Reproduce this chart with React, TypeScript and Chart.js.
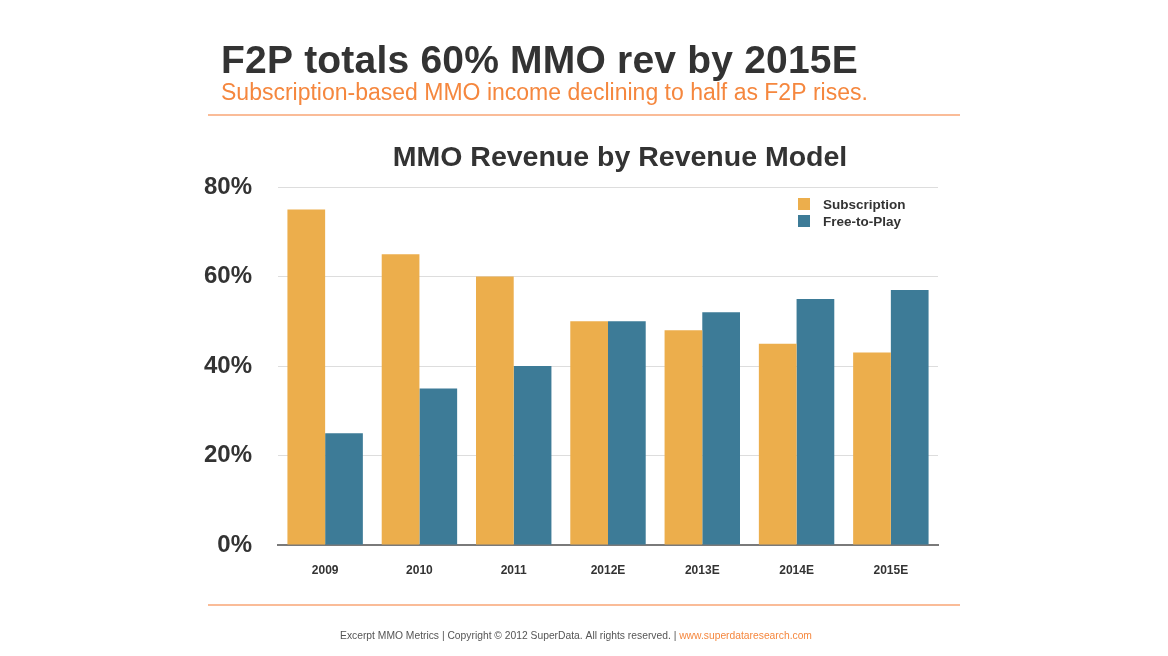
import React, { useEffect, useRef } from "react";
import { Chart, registerables } from "chart.js";

Chart.register(...registerables);

const categories = ["2009", "2010", "2011", "2012E", "2013E", "2014E", "2015E"];
const subscription = [75, 65, 60, 50, 48, 45, 43];
const freeToPlay = [25, 35, 40, 50, 52, 55, 57];
const yTicks = [0, 20, 40, 60, 80];

const headline = "F2P totals 60% MMO rev by 2015E";
const subhead = "Subscription-based MMO income declining to half as F2P rises.";
const chartTitle = "MMO Revenue by Revenue Model";
const footerMain = "Excerpt MMO Metrics | Copyright © 2012 SuperData. All rights reserved. | ";
const footerLink = "www.superdataresearch.com";

const ORANGE = "#ECAE4C";
const BLUE = "#3D7B97";
const ACCENT = "#F5873E";
const DARK = "#333333";
const FONT = "'Liberation Sans', Arial, Helvetica, sans-serif";

const decorPlugin = {
  id: "decor",
  afterDraw(chart: any) {
    const ctx = chart.ctx;
    ctx.save();
    ctx.textBaseline = "alphabetic";
    ctx.textAlign = "left";
    // headline
    ctx.fillStyle = DARK;
    ctx.font = `bold 39px ${FONT}`;
    ctx.letterSpacing = "0.2px";
    ctx.fillText(headline, 221, 73);
    ctx.letterSpacing = "0px";
    ctx.fillStyle = ACCENT;
    ctx.font = `23px ${FONT}`;
    ctx.fillText(subhead, 221, 100);
    // lines
    ctx.strokeStyle = "#F9A677";
    ctx.lineWidth = 1.5;
    ctx.beginPath();
    ctx.moveTo(208, 115);
    ctx.lineTo(960, 115);
    ctx.moveTo(208, 605);
    ctx.lineTo(960, 605);
    ctx.stroke();
    // chart title
    ctx.fillStyle = DARK;
    ctx.font = `bold 28.5px ${FONT}`;
    ctx.textAlign = "center";
    ctx.fillText(chartTitle, 620, 166);
    // footer
    ctx.font = `10.3px ${FONT}`;
    const w1 = ctx.measureText(footerMain).width;
    const w2 = ctx.measureText(footerLink).width;
    const start = 576 - (w1 + w2) / 2;
    ctx.textAlign = "left";
    ctx.fillStyle = "#555555";
    ctx.fillText(footerMain, start, 639);
    ctx.fillStyle = ACCENT;
    ctx.fillText(footerLink, start + w1, 639);
    // legend
    const items = [
      { label: "Subscription", color: ORANGE },
      { label: "Free-to-Play", color: BLUE },
    ];
    ctx.font = `bold 13.5px ${FONT}`;
    items.forEach((it, i) => {
      const y = 198 + i * 17;
      ctx.fillStyle = it.color;
      ctx.fillRect(798, y, 12, 12);
      ctx.fillStyle = DARK;
      ctx.fillText(it.label, 823, y + 11);
    });
    ctx.restore();
  },
};

export default function App() {
  const ref = useRef<HTMLCanvasElement>(null);
  useEffect(() => {
    const chart = new Chart(ref.current!, {
      type: "bar",
      data: {
        labels: categories,
        datasets: [
          { label: "Subscription", data: subscription, backgroundColor: ORANGE },
          { label: "Free-to-Play", data: freeToPlay, backgroundColor: BLUE },
        ],
      },
      options: {
        animation: false,
        responsive: false,
        maintainAspectRatio: false,
        layout: { padding: { top: 187, right: 230, bottom: 0, left: 0 } },
        datasets: { bar: { categoryPercentage: 0.8, barPercentage: 1 } },
        plugins: {
          legend: { display: false },
          title: { display: false },
          tooltip: { enabled: false },
        },
        scales: {
          x: {
            grid: { display: false },
            border: { color: "#7a7a7a", width: 2 },
            ticks: { color: DARK, font: { family: FONT, size: 12, weight: "bold" }, padding: 10 },
            afterFit(scale: any) {
              scale.height = 111;
            },
          },
          y: {
            min: 0,
            max: 80,
            afterBuildTicks(scale: any) {
              scale.ticks = yTicks.map((v) => ({ value: v }));
            },
            grid: { color: "#dddddd", drawTicks: false },
            border: { display: false },
            ticks: {
              color: DARK,
              font: { family: FONT, size: 24, weight: "bold" },
              padding: 26,
              callback: (v: any) => `${v}%`,
            },
            afterFit(scale: any) {
              scale.width = 278;
            },
          },
        },
      },
      plugins: [decorPlugin],
    });
    return () => chart.destroy();
  }, []);
  return (
    <div style={{ position: "absolute", left: 0, top: 0, width: 1168, height: 656, background: "#fff" }}>
      <canvas ref={ref} width={1168} height={656} style={{ display: "block" }} />
    </div>
  );
}
